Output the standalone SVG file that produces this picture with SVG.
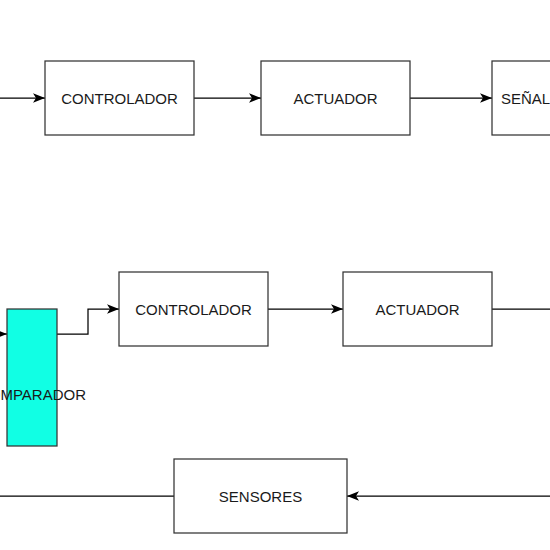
<svg xmlns="http://www.w3.org/2000/svg" width="550" height="550" viewBox="0 0 550 550">
<style>
.box{fill:#ffffff;stroke:#333333;stroke-width:1.25}
.cmp{fill:#11ffe4;stroke:#333333;stroke-width:1.25}
.lbl{font-family:"Liberation Sans",Arial,sans-serif;font-size:15px;fill:#1a1a1a;text-anchor:middle;dominant-baseline:central}
.edge{fill:none;stroke:#000000;stroke-width:1.25}
</style>
<defs>
<marker id="arr" viewBox="0 0 10 10" refX="10" refY="5" markerWidth="12" markerHeight="12" markerUnits="userSpaceOnUse" orient="auto">
<path d="M0,1 L10,5 L0,9 L2.5,5 Z" fill="#000000"/>
</marker>
</defs>
<rect width="550" height="550" fill="#ffffff"/>
<g id="connectors">
<path class="edge" d="M0,98 L45,98" marker-end="url(#arr)"/>
<path class="edge" d="M194,98 L261,98" marker-end="url(#arr)"/>
<path class="edge" d="M410,98 L492,98" marker-end="url(#arr)"/>
<path class="edge" d="M-10,334 L7,334" marker-end="url(#arr)"/>
<path class="edge" d="M57,334 L88,334 L88,309 L119,309" marker-end="url(#arr)"/>
<path class="edge" d="M268,309 L343,309" marker-end="url(#arr)"/>
<path class="edge" d="M492,309 L550,309"/>
<path class="edge" d="M550,496 L347,496" marker-end="url(#arr)"/>
<path class="edge" d="M174,496 L0,496"/>
</g>
<g id="controlador1">
<rect class="box" x="45" y="61" width="149" height="74"/>
<text class="lbl" x="119.5" y="98">CONTROLADOR</text>
</g>
<g id="actuador1">
<rect class="box" x="261" y="61" width="149" height="74"/>
<text class="lbl" x="335.5" y="98">ACTUADOR</text>
</g>
<g id="senal">
<rect class="box" x="492" y="61" width="149" height="74"/>
<text class="lbl" x="501" y="98" style="text-anchor:start">SEÑAL</text>
</g>
<g id="comparador">
<rect class="cmp" x="7" y="309" width="50" height="137"/>
<text class="lbl" x="32" y="394">COMPARADOR</text>
</g>
<g id="controlador2">
<rect class="box" x="119" y="272" width="149" height="74"/>
<text class="lbl" x="193.5" y="309">CONTROLADOR</text>
</g>
<g id="actuador2">
<rect class="box" x="343" y="272" width="149" height="74"/>
<text class="lbl" x="417.5" y="309">ACTUADOR</text>
</g>
<g id="sensores">
<rect class="box" x="174" y="459" width="173" height="74"/>
<text class="lbl" x="260.5" y="496">SENSORES</text>
</g>
</svg>
